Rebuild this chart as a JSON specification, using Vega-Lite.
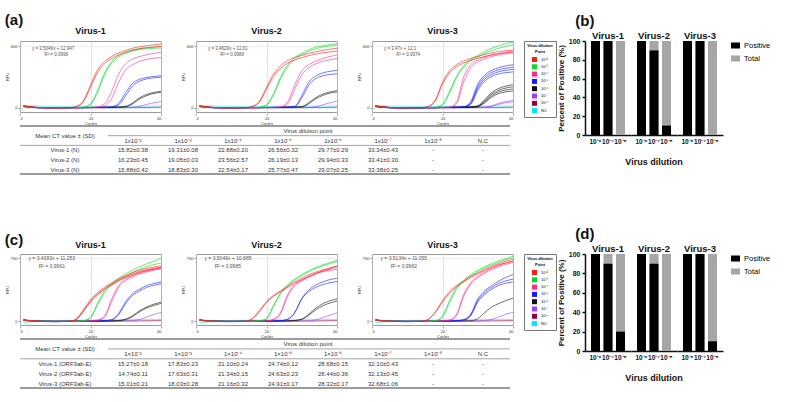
{
"$schema": "https://vega.github.io/schema/vega-lite/v6.json",
"background": "white",
"padding": {"left": 4, "top": 13, "right": 0, "bottom": 0},
"config": {
 "font": "Liberation Sans",
 "view": {"stroke": null},
 "title": {"font": "Liberation Sans", "color": "#111"},
 "header": {"labelFont": "Liberation Sans", "titleFont": "Liberation Sans"},
 "axis": {"labelFont": "Liberation Sans", "titleFont": "Liberation Sans"},
 "legend": {"labelFont": "Liberation Sans", "titleFont": "Liberation Sans"}
},
"datasets": {
 "curvesA": [
  {"virus":"Virus-1","eq":"y = 3.5046x + 12.947","r2":"R² = 0.9998"},
  {"virus":"Virus-2","eq":"y = 3.4629x + 12.61","r2":"R² = 0.9989"},
  {"virus":"Virus-3","eq":"y = 3.47x + 12.1","r2":"R² = 0.9974"},
  {"virus":"Virus-1","dil":"NC","rep":1,"cyc":[1,5,10,14,16,18,20,22,24,26,28,30,32,34,36,38,40],"rfu":[22,18,16,15,15,15,15,15,15,16,16,17,17,18,18,18,18]},
  {"virus":"Virus-1","dil":"10⁻⁸","rep":1,"cyc":[1,5,10,14,16,18,20,22,24,26,28,30,32,34,36,38,40],"rfu":[10,0,-3,-2,-2,-1,0,0,1,1,2,2,3,3,4,5,6]},
  {"virus":"Virus-1","dil":"10⁻⁷","rep":1,"cyc":[1,5,10,14,16,18,20,22,24,26,28,30,32,34,36,38,40],"rfu":[12,2,0,1,2,2,3,3,3,4,4,5,6,15,35,50,60]},
  {"virus":"Virus-1","dil":"10⁻⁶","rep":1,"cyc":[1,5,10,14,16,18,20,22,24,26,28,30,32,34,36,38,40],"rfu":[15,3,1,2,3,3,4,4,5,6,8,15,50,100,132,150,162]},
  {"virus":"Virus-1","dil":"10⁻⁶","rep":2,"cyc":[1,5,10,14,16,18,20,22,24,26,28,30,32,34,36,38,40],"rfu":[15,3,1,2,3,3,4,4,5,6,7,12,40,88,120,140,152]},
  {"virus":"Virus-1","dil":"10⁻⁵","rep":1,"cyc":[1,5,10,14,16,18,20,22,24,26,28,30,32,34,36,38,40],"rfu":[18,3,1,2,3,3,4,5,6,10,45,150,240,278,296,306,312]},
  {"virus":"Virus-1","dil":"10⁻⁵","rep":2,"cyc":[1,5,10,14,16,18,20,22,24,26,28,30,32,34,36,38,40],"rfu":[18,3,1,2,3,3,4,5,6,8,30,120,215,260,282,293,298]},
  {"virus":"Virus-1","dil":"10⁻⁴","rep":1,"cyc":[1,5,10,14,16,18,20,22,24,26,28,30,32,34,36,38,40],"rfu":[20,4,0,1,2,3,5,10,40,160,330,430,475,500,518,530,540]},
  {"virus":"Virus-1","dil":"10⁻⁴","rep":2,"cyc":[1,5,10,14,16,18,20,22,24,26,28,30,32,34,36,38,40],"rfu":[20,4,0,1,2,3,4,6,20,90,250,370,420,452,472,483,490]},
  {"virus":"Virus-1","dil":"10⁻³","rep":1,"cyc":[1,5,10,14,16,18,20,22,24,26,28,30,32,34,36,38,40],"rfu":[15,3,1,2,3,8,40,170,340,450,510,545,565,578,585,590,595]},
  {"virus":"Virus-1","dil":"10⁻³","rep":2,"cyc":[1,5,10,14,16,18,20,22,24,26,28,30,32,34,36,38,40],"rfu":[15,3,1,2,3,6,32,150,320,435,495,530,552,566,574,579,582]},
  {"virus":"Virus-1","dil":"10⁻²","rep":1,"cyc":[1,5,10,14,16,18,20,22,24,26,28,30,32,34,36,38,40],"rfu":[20,3,0,2,15,70,220,370,450,500,535,560,580,595,605,613,620]},
  {"virus":"Virus-1","dil":"10⁻²","rep":2,"cyc":[1,5,10,14,16,18,20,22,24,26,28,30,32,34,36,38,40],"rfu":[18,2,-2,1,12,60,200,345,430,480,515,540,560,575,585,592,598]},
  {"virus":"Virus-2","dil":"NC","rep":1,"cyc":[1,5,10,14,16,18,20,22,24,26,28,30,32,34,36,38,40],"rfu":[22,18,16,15,15,15,15,15,15,16,16,17,17,18,18,18,18]},
  {"virus":"Virus-2","dil":"10⁻⁸","rep":1,"cyc":[1,5,10,14,16,18,20,22,24,26,28,30,32,34,36,38,40],"rfu":[10,0,-3,-2,-2,-1,0,0,1,1,2,2,3,3,4,5,6]},
  {"virus":"Virus-2","dil":"10⁻⁷","rep":1,"cyc":[1,5,10,14,16,18,20,22,24,26,28,30,32,34,36,38,40],"rfu":[12,2,0,1,2,2,3,3,3,4,4,5,6,12,30,50,65]},
  {"virus":"Virus-2","dil":"10⁻⁶","rep":1,"cyc":[1,5,10,14,16,18,20,22,24,26,28,30,32,34,36,38,40],"rfu":[15,3,1,2,3,3,4,4,5,6,8,12,50,100,135,155,168]},
  {"virus":"Virus-2","dil":"10⁻⁶","rep":2,"cyc":[1,5,10,14,16,18,20,22,24,26,28,30,32,34,36,38,40],"rfu":[15,3,1,2,3,3,4,4,5,6,7,10,40,88,122,143,155]},
  {"virus":"Virus-2","dil":"10⁻⁵","rep":1,"cyc":[1,5,10,14,16,18,20,22,24,26,28,30,32,34,36,38,40],"rfu":[18,3,1,2,3,3,4,5,6,8,15,120,250,310,340,355,365]},
  {"virus":"Virus-2","dil":"10⁻⁵","rep":2,"cyc":[1,5,10,14,16,18,20,22,24,26,28,30,32,34,36,38,40],"rfu":[18,3,1,2,3,3,4,5,6,8,12,95,220,285,312,325,332]},
  {"virus":"Virus-2","dil":"10⁻⁴","rep":1,"cyc":[1,5,10,14,16,18,20,22,24,26,28,30,32,34,36,38,40],"rfu":[20,4,0,1,2,3,4,5,10,60,220,360,420,455,480,500,515]},
  {"virus":"Virus-2","dil":"10⁻⁴","rep":2,"cyc":[1,5,10,14,16,18,20,22,24,26,28,30,32,34,36,38,40],"rfu":[20,4,0,1,2,3,4,5,8,40,180,320,390,428,452,468,480]},
  {"virus":"Virus-2","dil":"10⁻³","rep":1,"cyc":[1,5,10,14,16,18,20,22,24,26,28,30,32,34,36,38,40],"rfu":[15,3,1,2,3,6,30,140,300,420,490,530,565,590,605,615,625]},
  {"virus":"Virus-2","dil":"10⁻³","rep":2,"cyc":[1,5,10,14,16,18,20,22,24,26,28,30,32,34,36,38,40],"rfu":[15,3,1,2,3,5,25,125,280,400,470,515,550,575,592,602,610]},
  {"virus":"Virus-2","dil":"10⁻²","rep":1,"cyc":[1,5,10,14,16,18,20,22,24,26,28,30,32,34,36,38,40],"rfu":[20,3,0,2,15,65,200,330,410,460,490,510,530,545,560,570,580]},
  {"virus":"Virus-2","dil":"10⁻²","rep":2,"cyc":[1,5,10,14,16,18,20,22,24,26,28,30,32,34,36,38,40],"rfu":[18,2,-2,1,12,55,180,305,385,435,465,488,508,523,535,544,550]},
  {"virus":"Virus-3","dil":"NC","rep":1,"cyc":[1,5,10,14,16,18,20,22,24,26,28,30,32,34,36,38,40],"rfu":[22,18,16,15,15,15,15,15,15,16,16,17,17,18,18,18,18]},
  {"virus":"Virus-3","dil":"10⁻⁸","rep":1,"cyc":[1,5,10,14,16,18,20,22,24,26,28,30,32,34,36,38,40],"rfu":[10,0,-3,-2,-2,-1,0,0,1,1,2,2,3,3,4,5,6]},
  {"virus":"Virus-3","dil":"10⁻⁷","rep":1,"cyc":[1,5,10,14,16,18,20,22,24,26,28,30,32,34,36,38,40],"rfu":[12,2,0,1,2,2,3,3,3,4,4,5,8,20,45,62,72]},
  {"virus":"Virus-3","dil":"10⁻⁷","rep":2,"cyc":[1,5,10,14,16,18,20,22,24,26,28,30,32,34,36,38,40],"rfu":[12,2,0,1,2,2,3,3,3,4,4,5,6,15,35,50,60]},
  {"virus":"Virus-3","dil":"10⁻⁶","rep":1,"cyc":[1,5,10,14,16,18,20,22,24,26,28,30,32,34,36,38,40],"rfu":[15,3,1,2,3,3,4,4,5,6,8,20,80,150,190,212,225]},
  {"virus":"Virus-3","dil":"10⁻⁶","rep":2,"cyc":[1,5,10,14,16,18,20,22,24,26,28,30,32,34,36,38,40],"rfu":[15,3,1,2,3,3,4,4,5,6,8,17,70,135,172,193,205]},
  {"virus":"Virus-3","dil":"10⁻⁶","rep":3,"cyc":[1,5,10,14,16,18,20,22,24,26,28,30,32,34,36,38,40],"rfu":[15,3,1,2,3,3,4,4,5,6,7,14,60,120,156,174,185]},
  {"virus":"Virus-3","dil":"10⁻⁶","rep":4,"cyc":[1,5,10,14,16,18,20,22,24,26,28,30,32,34,36,38,40],"rfu":[15,3,1,2,3,3,4,4,5,6,7,12,50,105,140,156,165]},
  {"virus":"Virus-3","dil":"10⁻⁵","rep":1,"cyc":[1,5,10,14,16,18,20,22,24,26,28,30,32,34,36,38,40],"rfu":[18,3,1,2,3,3,4,5,6,10,60,230,320,365,392,408,420]},
  {"virus":"Virus-3","dil":"10⁻⁵","rep":2,"cyc":[1,5,10,14,16,18,20,22,24,26,28,30,32,34,36,38,40],"rfu":[18,3,1,2,3,3,4,5,6,9,50,210,300,345,372,386,395]},
  {"virus":"Virus-3","dil":"10⁻⁵","rep":3,"cyc":[1,5,10,14,16,18,20,22,24,26,28,30,32,34,36,38,40],"rfu":[18,3,1,2,3,3,4,5,6,8,40,190,280,325,352,366,375]},
  {"virus":"Virus-3","dil":"10⁻⁵","rep":4,"cyc":[1,5,10,14,16,18,20,22,24,26,28,30,32,34,36,38,40],"rfu":[18,3,1,2,3,3,4,5,6,8,35,170,260,305,330,343,350]},
  {"virus":"Virus-3","dil":"10⁻⁴","rep":1,"cyc":[1,5,10,14,16,18,20,22,24,26,28,30,32,34,36,38,40],"rfu":[20,4,0,1,2,3,4,6,60,300,420,465,495,515,530,542,552]},
  {"virus":"Virus-3","dil":"10⁻⁴","rep":2,"cyc":[1,5,10,14,16,18,20,22,24,26,28,30,32,34,36,38,40],"rfu":[20,4,0,1,2,3,4,5,40,250,390,445,478,500,516,527,535]},
  {"virus":"Virus-3","dil":"10⁻³","rep":1,"cyc":[1,5,10,14,16,18,20,22,24,26,28,30,32,34,36,38,40],"rfu":[15,3,1,2,3,6,35,160,310,410,470,510,550,580,605,625,640]},
  {"virus":"Virus-3","dil":"10⁻³","rep":2,"cyc":[1,5,10,14,16,18,20,22,24,26,28,30,32,34,36,38,40],"rfu":[15,3,1,2,3,5,30,145,295,395,455,495,530,558,580,598,612]},
  {"virus":"Virus-3","dil":"10⁻²","rep":1,"cyc":[1,5,10,14,16,18,20,22,24,26,28,30,32,34,36,38,40],"rfu":[20,3,0,2,15,80,250,360,420,455,480,500,520,535,548,556,562]},
  {"virus":"Virus-3","dil":"10⁻²","rep":2,"cyc":[1,5,10,14,16,18,20,22,24,26,28,30,32,34,36,38,40],"rfu":[18,2,-2,1,12,70,230,340,400,435,462,482,500,515,527,535,542]}
 ],
 "curvesC": [
  {"virus":"Virus-1","eq":"y = 3.4383x + 11.253","r2":"R² = 0.9961"},
  {"virus":"Virus-2","eq":"y = 3.5049x + 10.885","r2":"R² = 0.9985"},
  {"virus":"Virus-3","eq":"y = 3.5134x + 11.055","r2":"R² = 0.9962"},
  {"virus":"Virus-1","dil":"NC","rep":1,"cyc":[1,5,10,14,16,18,20,22,24,26,28,30,32,34,36,38,40],"rfu":[-20,5,10,12,13,14,15,16,16,17,17,18,18,19,19,20,20]},
  {"virus":"Virus-1","dil":"10⁻⁸","rep":1,"cyc":[1,5,10,14,16,18,20,22,24,26,28,30,32,34,36,38,40],"rfu":[15,5,0,0,1,1,2,2,3,3,4,4,5,6,7,8,9]},
  {"virus":"Virus-1","dil":"10⁻⁷","rep":1,"cyc":[1,5,10,14,16,18,20,22,24,26,28,30,32,34,36,38,40],"rfu":[12,2,0,1,2,2,3,3,3,4,4,6,10,22,50,78,100]},
  {"virus":"Virus-1","dil":"10⁻⁶","rep":1,"cyc":[1,5,10,14,16,18,20,22,24,26,28,30,32,34,36,38,40],"rfu":[15,3,1,2,3,3,4,4,5,6,10,25,65,120,162,192,215]},
  {"virus":"Virus-1","dil":"10⁻⁶","rep":2,"cyc":[1,5,10,14,16,18,20,22,24,26,28,30,32,34,36,38,40],"rfu":[15,3,1,2,3,3,4,4,5,6,9,20,55,108,150,178,200]},
  {"virus":"Virus-1","dil":"10⁻⁵","rep":1,"cyc":[1,5,10,14,16,18,20,22,24,26,28,30,32,34,36,38,40],"rfu":[15,3,1,2,3,3,4,5,8,20,90,220,310,360,400,422,440]},
  {"virus":"Virus-1","dil":"10⁻⁵","rep":2,"cyc":[1,5,10,14,16,18,20,22,24,26,28,30,32,34,36,38,40],"rfu":[15,3,1,2,3,3,4,5,7,15,75,200,290,340,380,402,420]},
  {"virus":"Virus-1","dil":"10⁻⁴","rep":1,"cyc":[1,5,10,14,16,18,20,22,24,26,28,30,32,34,36,38,40],"rfu":[12,2,0,1,2,3,5,15,60,250,400,470,510,540,562,582,600]},
  {"virus":"Virus-1","dil":"10⁻⁴","rep":2,"cyc":[1,5,10,14,16,18,20,22,24,26,28,30,32,34,36,38,40],"rfu":[12,2,0,1,2,3,4,12,45,220,380,455,498,528,552,570,585]},
  {"virus":"Virus-1","dil":"10⁻³","rep":1,"cyc":[1,5,10,14,16,18,20,22,24,26,28,30,32,34,36,38,40],"rfu":[10,2,0,1,2,8,45,200,340,420,480,530,570,610,640,670,700]},
  {"virus":"Virus-1","dil":"10⁻³","rep":2,"cyc":[1,5,10,14,16,18,20,22,24,26,28,30,32,34,36,38,40],"rfu":[10,2,0,1,2,6,38,185,320,405,460,505,545,580,610,632,650]},
  {"virus":"Virus-1","dil":"10⁻²","rep":1,"cyc":[1,5,10,14,16,18,20,22,24,26,28,30,32,34,36,38,40],"rfu":[15,2,-3,0,30,130,240,320,380,430,475,510,545,570,590,605,620]},
  {"virus":"Virus-1","dil":"10⁻²","rep":2,"cyc":[1,5,10,14,16,18,20,22,24,26,28,30,32,34,36,38,40],"rfu":[15,2,-3,0,25,120,225,305,365,415,460,497,530,556,576,591,605]},
  {"virus":"Virus-1","dil":"10⁻²","rep":3,"cyc":[1,5,10,14,16,18,20,22,24,26,28,30,32,34,36,38,40],"rfu":[15,2,-3,0,22,110,215,295,355,405,450,487,520,546,566,580,592]},
  {"virus":"Virus-2","dil":"NC","rep":1,"cyc":[1,5,10,14,16,18,20,22,24,26,28,30,32,34,36,38,40],"rfu":[-20,5,10,12,13,14,15,16,16,17,17,18,18,19,19,20,20]},
  {"virus":"Virus-2","dil":"10⁻⁸","rep":1,"cyc":[1,5,10,14,16,18,20,22,24,26,28,30,32,34,36,38,40],"rfu":[15,5,0,0,1,1,2,2,3,3,4,4,5,6,7,8,9]},
  {"virus":"Virus-2","dil":"10⁻⁷","rep":1,"cyc":[1,5,10,14,16,18,20,22,24,26,28,30,32,34,36,38,40],"rfu":[12,2,0,1,2,2,3,3,3,4,4,6,8,18,42,70,95]},
  {"virus":"Virus-2","dil":"10⁻⁶","rep":1,"cyc":[1,5,10,14,16,18,20,22,24,26,28,30,32,34,36,38,40],"rfu":[15,3,1,2,3,3,4,4,5,6,10,22,70,130,175,205,225]},
  {"virus":"Virus-2","dil":"10⁻⁶","rep":2,"cyc":[1,5,10,14,16,18,20,22,24,26,28,30,32,34,36,38,40],"rfu":[15,3,1,2,3,3,4,4,5,6,10,25,80,148,198,230,250]},
  {"virus":"Virus-2","dil":"10⁻⁵","rep":1,"cyc":[1,5,10,14,16,18,20,22,24,26,28,30,32,34,36,38,40],"rfu":[15,3,1,2,3,3,4,5,8,25,100,250,330,380,410,430,445]},
  {"virus":"Virus-2","dil":"10⁻⁵","rep":2,"cyc":[1,5,10,14,16,18,20,22,24,26,28,30,32,34,36,38,40],"rfu":[15,3,1,2,3,3,4,5,8,22,95,255,350,405,440,465,480]},
  {"virus":"Virus-2","dil":"10⁻⁴","rep":1,"cyc":[1,5,10,14,16,18,20,22,24,26,28,30,32,34,36,38,40],"rfu":[12,2,0,1,2,3,5,25,100,300,410,460,500,535,565,590,615]},
  {"virus":"Virus-2","dil":"10⁻⁴","rep":2,"cyc":[1,5,10,14,16,18,20,22,24,26,28,30,32,34,36,38,40],"rfu":[12,2,0,1,2,3,4,20,85,280,395,450,492,528,558,584,608]},
  {"virus":"Virus-2","dil":"10⁻³","rep":1,"cyc":[1,5,10,14,16,18,20,22,24,26,28,30,32,34,36,38,40],"rfu":[10,2,0,1,2,6,32,180,320,410,470,520,565,600,630,655,680]},
  {"virus":"Virus-2","dil":"10⁻³","rep":2,"cyc":[1,5,10,14,16,18,20,22,24,26,28,30,32,34,36,38,40],"rfu":[10,2,0,1,2,5,28,170,305,395,458,508,552,588,618,643,668]},
  {"virus":"Virus-2","dil":"10⁻²","rep":1,"cyc":[1,5,10,14,16,18,20,22,24,26,28,30,32,34,36,38,40],"rfu":[15,2,-3,0,35,120,220,290,340,390,440,480,520,550,575,595,615]},
  {"virus":"Virus-2","dil":"10⁻²","rep":2,"cyc":[1,5,10,14,16,18,20,22,24,26,28,30,32,34,36,38,40],"rfu":[15,2,-3,0,30,110,210,280,330,378,425,465,502,532,556,570,580]},
  {"virus":"Virus-3","dil":"NC","rep":1,"cyc":[1,5,10,14,16,18,20,22,24,26,28,30,32,34,36,38,40],"rfu":[-20,5,10,12,13,14,15,16,16,17,17,18,18,19,19,20,20]},
  {"virus":"Virus-3","dil":"10⁻⁸","rep":1,"cyc":[1,5,10,14,16,18,20,22,24,26,28,30,32,34,36,38,40],"rfu":[15,5,0,0,1,1,2,2,3,3,4,4,5,6,7,8,9]},
  {"virus":"Virus-3","dil":"10⁻⁷","rep":1,"cyc":[1,5,10,14,16,18,20,22,24,26,28,30,32,34,36,38,40],"rfu":[12,2,0,1,2,2,3,3,3,4,4,6,10,22,50,80,100]},
  {"virus":"Virus-3","dil":"10⁻⁶","rep":1,"cyc":[1,5,10,14,16,18,20,22,24,26,28,30,32,34,36,38,40],"rfu":[15,3,1,2,3,3,4,4,5,6,8,30,100,160,200,232,260]},
  {"virus":"Virus-3","dil":"10⁻⁵","rep":1,"cyc":[1,5,10,14,16,18,20,22,24,26,28,30,32,34,36,38,40],"rfu":[15,3,1,2,3,3,4,5,8,20,80,250,340,400,450,490,520]},
  {"virus":"Virus-3","dil":"10⁻⁵","rep":2,"cyc":[1,5,10,14,16,18,20,22,24,26,28,30,32,34,36,38,40],"rfu":[15,3,1,2,3,3,4,5,7,16,70,230,320,380,425,452,470]},
  {"virus":"Virus-3","dil":"10⁻⁵","rep":3,"cyc":[1,5,10,14,16,18,20,22,24,26,28,30,32,34,36,38,40],"rfu":[15,3,1,2,3,3,4,5,7,14,62,215,300,360,402,425,440]},
  {"virus":"Virus-3","dil":"10⁻⁴","rep":1,"cyc":[1,5,10,14,16,18,20,22,24,26,28,30,32,34,36,38,40],"rfu":[12,2,0,1,2,3,5,15,80,300,430,500,550,590,625,650,670]},
  {"virus":"Virus-3","dil":"10⁻⁴","rep":2,"cyc":[1,5,10,14,16,18,20,22,24,26,28,30,32,34,36,38,40],"rfu":[12,2,0,1,2,3,4,12,65,280,415,488,538,578,610,635,655]},
  {"virus":"Virus-3","dil":"10⁻³","rep":1,"cyc":[1,5,10,14,16,18,20,22,24,26,28,30,32,34,36,38,40],"rfu":[10,2,0,1,2,8,60,230,380,460,520,570,610,645,675,700,725]},
  {"virus":"Virus-3","dil":"10⁻³","rep":2,"cyc":[1,5,10,14,16,18,20,22,24,26,28,30,32,34,36,38,40],"rfu":[10,2,0,1,2,6,50,210,360,445,505,555,595,630,660,685,708]},
  {"virus":"Virus-3","dil":"10⁻²","rep":1,"cyc":[1,5,10,14,16,18,20,22,24,26,28,30,32,34,36,38,40],"rfu":[15,2,-3,0,25,110,230,330,400,450,500,540,580,615,645,670,690]},
  {"virus":"Virus-3","dil":"10⁻²","rep":2,"cyc":[1,5,10,14,16,18,20,22,24,26,28,30,32,34,36,38,40],"rfu":[15,2,-3,0,22,100,215,315,385,438,488,528,566,600,630,652,670]}
 ],
 "tableA": [
  {"kind":"major","r":-0.5,"c":-1.26,"c2":8.54},{"kind":"minor","r":1.5,"c":-1.26,"c2":8.54},{"kind":"major","r":4.45,"c":-1.26,"c2":8.54},
  {"kind":"minor","r":0.5,"c":0.5,"c2":8.54},
  {"kind":"lab","r":0.5,"c":0,"t":"Mean CT value ± (SD)"},
  {"kind":"cell","r":0,"c":4.5,"t":"Virus dilution point"},
  {"kind":"cell","r":1,"c":1,"t":"1x10⁻²"},{"kind":"cell","r":1,"c":2,"t":"1x10⁻³"},{"kind":"cell","r":1,"c":3,"t":"1x10⁻⁴"},{"kind":"cell","r":1,"c":4,"t":"1x10⁻⁵"},
  {"kind":"cell","r":1,"c":5,"t":"1x10⁻⁶"},{"kind":"cell","r":1,"c":6,"t":"1x10⁻⁷"},{"kind":"cell","r":1,"c":7,"t":"1x10⁻⁸"},{"kind":"cell","r":1,"c":8,"t":"N.C"},
  {"kind":"lab","r":2,"c":0,"t":"Virus-1 (N)"},{"kind":"lab","r":3,"c":0,"t":"Virus-2 (N)"},{"kind":"lab","r":4,"c":0,"t":"Virus-3 (N)"},
  {"kind":"cell","r":2,"c":1,"t":"15.82±0.38"},{"kind":"cell","r":2,"c":2,"t":"19.31±0.08"},{"kind":"cell","r":2,"c":3,"t":"22.88±0.20"},{"kind":"cell","r":2,"c":4,"t":"26.56±0.32"},{"kind":"cell","r":2,"c":5,"t":"29.77±0.29"},{"kind":"cell","r":2,"c":6,"t":"33.34±0.43"},{"kind":"cell","r":2,"c":7,"t":"-"},{"kind":"cell","r":2,"c":8,"t":"-"},
  {"kind":"cell","r":3,"c":1,"t":"16.23±0.45"},{"kind":"cell","r":3,"c":2,"t":"19.05±0.03"},{"kind":"cell","r":3,"c":3,"t":"23.56±2.57"},{"kind":"cell","r":3,"c":4,"t":"26.19±0.13"},{"kind":"cell","r":3,"c":5,"t":"29.94±0.33"},{"kind":"cell","r":3,"c":6,"t":"33.41±0.30"},{"kind":"cell","r":3,"c":7,"t":"-"},{"kind":"cell","r":3,"c":8,"t":"-"},
  {"kind":"cell","r":4,"c":1,"t":"15.88±0.42"},{"kind":"cell","r":4,"c":2,"t":"18.83±0.30"},{"kind":"cell","r":4,"c":3,"t":"22.54±0.17"},{"kind":"cell","r":4,"c":4,"t":"25.77±0.47"},{"kind":"cell","r":4,"c":5,"t":"29.07±0.25"},{"kind":"cell","r":4,"c":6,"t":"33.38±0.25"},{"kind":"cell","r":4,"c":7,"t":"-"},{"kind":"cell","r":4,"c":8,"t":"-"}
 ],
 "tableC": [
  {"kind":"major","r":-0.5,"c":-1.26,"c2":8.54},{"kind":"minor","r":1.5,"c":-1.26,"c2":8.54},{"kind":"major","r":4.45,"c":-1.26,"c2":8.54},
  {"kind":"minor","r":0.5,"c":0.5,"c2":8.54},
  {"kind":"lab","r":0.5,"c":0,"t":"Mean CT value ± (SD)"},
  {"kind":"cell","r":0,"c":4.5,"t":"Virus dilution point"},
  {"kind":"cell","r":1,"c":1,"t":"1×10⁻²"},{"kind":"cell","r":1,"c":2,"t":"1×10⁻³"},{"kind":"cell","r":1,"c":3,"t":"1×10⁻⁴"},{"kind":"cell","r":1,"c":4,"t":"1×10⁻⁵"},
  {"kind":"cell","r":1,"c":5,"t":"1×10⁻⁶"},{"kind":"cell","r":1,"c":6,"t":"1×10⁻⁷"},{"kind":"cell","r":1,"c":7,"t":"1×10⁻⁸"},{"kind":"cell","r":1,"c":8,"t":"N.C"},
  {"kind":"lab","r":2,"c":0,"t":"Virus-1 (ORF3ab-E)"},{"kind":"lab","r":3,"c":0,"t":"Virus-2 (ORF3ab-E)"},{"kind":"lab","r":4,"c":0,"t":"Virus-3 (ORF3ab-E)"},
  {"kind":"cell","r":2,"c":1,"t":"15.27±0.18"},{"kind":"cell","r":2,"c":2,"t":"17.83±0.23"},{"kind":"cell","r":2,"c":3,"t":"21.10±0.24"},{"kind":"cell","r":2,"c":4,"t":"24.74±0.12"},{"kind":"cell","r":2,"c":5,"t":"28.68±0.15"},{"kind":"cell","r":2,"c":6,"t":"32.10±0.43"},{"kind":"cell","r":2,"c":7,"t":"-"},{"kind":"cell","r":2,"c":8,"t":"-"},
  {"kind":"cell","r":3,"c":1,"t":"14.74±0.11"},{"kind":"cell","r":3,"c":2,"t":"17.63±0.31"},{"kind":"cell","r":3,"c":3,"t":"21.34±0.15"},{"kind":"cell","r":3,"c":4,"t":"24.63±0.23"},{"kind":"cell","r":3,"c":5,"t":"28.44±0.36"},{"kind":"cell","r":3,"c":6,"t":"32.13±0.45"},{"kind":"cell","r":3,"c":7,"t":"-"},{"kind":"cell","r":3,"c":8,"t":"-"},
  {"kind":"cell","r":4,"c":1,"t":"15.01±0.21"},{"kind":"cell","r":4,"c":2,"t":"18.03±0.28"},{"kind":"cell","r":4,"c":3,"t":"21.16±0.32"},{"kind":"cell","r":4,"c":4,"t":"24.91±0.17"},{"kind":"cell","r":4,"c":5,"t":"28.32±0.17"},{"kind":"cell","r":4,"c":6,"t":"32.68±1.06"},{"kind":"cell","r":4,"c":7,"t":"-"},{"kind":"cell","r":4,"c":8,"t":"-"}
 ],
 "barsB": [
  {"virus":"Virus-1","dil":"10⁻⁶","series":"Total","pct":100},{"virus":"Virus-1","dil":"10⁻⁷","series":"Total","pct":100},{"virus":"Virus-1","dil":"10⁻⁸","series":"Total","pct":100},
  {"virus":"Virus-2","dil":"10⁻⁶","series":"Total","pct":100},{"virus":"Virus-2","dil":"10⁻⁷","series":"Total","pct":100},{"virus":"Virus-2","dil":"10⁻⁸","series":"Total","pct":100},
  {"virus":"Virus-3","dil":"10⁻⁶","series":"Total","pct":100},{"virus":"Virus-3","dil":"10⁻⁷","series":"Total","pct":100},{"virus":"Virus-3","dil":"10⁻⁸","series":"Total","pct":100},
  {"virus":"Virus-1","dil":"10⁻⁶","series":"Positive","pct":100},{"virus":"Virus-1","dil":"10⁻⁷","series":"Positive","pct":100},{"virus":"Virus-1","dil":"10⁻⁸","series":"Positive","pct":0},
  {"virus":"Virus-2","dil":"10⁻⁶","series":"Positive","pct":100},{"virus":"Virus-2","dil":"10⁻⁷","series":"Positive","pct":90},{"virus":"Virus-2","dil":"10⁻⁸","series":"Positive","pct":10},
  {"virus":"Virus-3","dil":"10⁻⁶","series":"Positive","pct":100},{"virus":"Virus-3","dil":"10⁻⁷","series":"Positive","pct":100},{"virus":"Virus-3","dil":"10⁻⁸","series":"Positive","pct":0}
 ],
 "barsD": [
  {"virus":"Virus-1","dil":"10⁻⁶","series":"Total","pct":100},{"virus":"Virus-1","dil":"10⁻⁷","series":"Total","pct":100},{"virus":"Virus-1","dil":"10⁻⁸","series":"Total","pct":100},
  {"virus":"Virus-2","dil":"10⁻⁶","series":"Total","pct":100},{"virus":"Virus-2","dil":"10⁻⁷","series":"Total","pct":100},{"virus":"Virus-2","dil":"10⁻⁸","series":"Total","pct":100},
  {"virus":"Virus-3","dil":"10⁻⁶","series":"Total","pct":100},{"virus":"Virus-3","dil":"10⁻⁷","series":"Total","pct":100},{"virus":"Virus-3","dil":"10⁻⁸","series":"Total","pct":100},
  {"virus":"Virus-1","dil":"10⁻⁶","series":"Positive","pct":100},{"virus":"Virus-1","dil":"10⁻⁷","series":"Positive","pct":90},{"virus":"Virus-1","dil":"10⁻⁸","series":"Positive","pct":20},
  {"virus":"Virus-2","dil":"10⁻⁶","series":"Positive","pct":100},{"virus":"Virus-2","dil":"10⁻⁷","series":"Positive","pct":90},{"virus":"Virus-2","dil":"10⁻⁸","series":"Positive","pct":0},
  {"virus":"Virus-3","dil":"10⁻⁶","series":"Positive","pct":100},{"virus":"Virus-3","dil":"10⁻⁷","series":"Positive","pct":100},{"virus":"Virus-3","dil":"10⁻⁸","series":"Positive","pct":10}
 ]
},
"spacing": 51,
"resolve": {"scale": {"color": "independent"}, "legend": {"color": "independent"}},
"vconcat": [
 {
  "spacing": 0,
  "resolve": {"scale": {"color": "independent"}, "legend": {"color": "independent"}},
  "hconcat": [
   {
    "title": {"text": "(a)", "anchor": "start", "fontSize": 15, "fontWeight": "bold", "offset": -1},
    "spacing": 0,
    "vconcat": [
     {
      "data": {"name": "curvesA"},
      "facet": {"column": {"field": "virus", "type": "nominal", "title": null, "header": {"labelFontSize": 9, "labelFontWeight": "bold", "labelPadding": 3, "labelColor": "#111"}}},
      "spacing": 16,
      "resolve": {"axis": {"y": "independent"}},
      "spec": {
       "width": 141, "height": 71,
       "view": {"stroke": "#9a9a9a"},
       "layer": [
        {
         "transform": [{"filter": "false"}],
         "mark": {"type": "square"},
         "encoding": {
          "color": {"field": "dil", "type": "nominal", "scale": {"domain": ["10⁻²","10⁻³","10⁻⁴","10⁻⁵","10⁻⁶","10⁻⁷","10⁻⁸","NC"], "range": ["#ff1a1a","#00dd22","#ff2b8c","#1a1aff","#111111","#a040ff","#990040","#00e5ff"]}, "legend": {"title": ["Virus dilution", "Point"], "titleFontSize": 4, "titleFontWeight": "bold", "titleAlign": "center", "titleAnchor": "middle", "titlePadding": 3, "labelFontSize": 4, "labelOffset": 4, "symbolType": "square", "symbolSize": 25, "symbolStrokeWidth": 0, "symbolOpacity": 1, "rowPadding": 2.3, "strokeColor": "#777", "padding": 3, "offset": 8}}
         }
        },
        {
         "transform": [{"filter": "isValid(datum.rfu)"}, {"flatten": ["cyc", "rfu"]}],
         "mark": {"type": "line", "interpolate": "monotone"},
         "encoding": {
          "x": {"field": "cyc", "type": "quantitative", "scale": {"domain": [0, 40], "nice": false}, "axis": {"values": [0,10,20,30,40], "labelOverlap": false, "title": "Cycles", "titleFontSize": 4, "titleFontWeight": "normal", "titlePadding": 1, "labelFontSize": 4, "labelPadding": 1, "tickSize": 2, "domain": false, "grid": true, "gridDash": [1, 1], "gridColor": "#c8c8c8", "labelColor": "#333", "titleColor": "#333", "tickColor": "#999"}},
          "y": {"field": "rfu", "type": "quantitative", "scale": {"domain": [-40, 650], "nice": false, "zero": false}, "axis": {"values": [0,100,200,300,400,500,600], "labelOverlap": false, "title": "RFU", "titleFontSize": 4, "titleFontWeight": "normal", "titlePadding": 1, "labelFontSize": 4, "labelPadding": 1, "tickSize": 2, "domain": false, "grid": true, "gridDash": [1, 1], "gridColor": "#dddddd", "labelColor": "#333", "titleColor": "#333", "tickColor": "#999"}},
          "color": {"field": "dil", "type": "nominal", "scale": {"domain": ["10⁻²","10⁻³","10⁻⁴","10⁻⁵","10⁻⁶","10⁻⁷","10⁻⁸","NC"], "range": ["#ff1a1a","#00dd22","#ff2b8c","#1a1aff","#111111","#a040ff","#990040","#00e5ff"]}},
          "detail": {"field": "rep", "type": "nominal"},
          "strokeWidth": {"value": 1},
          "strokeOpacity": {"value": 0.6}
         }
        },
        {
         "transform": [{"filter": "isValid(datum.eq)"}],
         "mark": {"type": "text", "align": "left", "baseline": "middle", "fontSize": 4.5, "color": "#555"},
         "encoding": {"x": {"datum": 3.4}, "y": {"datum": 569}, "text": {"field": "eq", "type": "nominal"}}
        },
        {
         "transform": [{"filter": "isValid(datum.eq)"}],
         "mark": {"type": "text", "align": "left", "baseline": "middle", "fontSize": 4.5, "color": "#555"},
         "encoding": {"x": {"datum": 6.9}, "y": {"datum": 515}, "text": {"field": "r2", "type": "nominal"}}
        }
       ]
      }
     },
     {
      "data": {"name": "tableA"},
      "width": 490, "height": 48,
      "encoding": {
       "y": {"field": "r", "type": "quantitative", "scale": {"domain": [-0.5, 4.45], "reverse": true, "nice": false, "zero": false}, "axis": null},
       "x": {"field": "c", "type": "quantitative", "scale": {"domain": [-1.26, 8.54], "nice": false, "zero": false}, "axis": null}
      },
      "layer": [
       {"transform": [{"filter": "datum.kind === 'major'"}], "mark": {"type": "rule", "color": "#7a7a7a", "strokeWidth": 1.3}, "encoding": {"x2": {"field": "c2"}}},
       {"transform": [{"filter": "datum.kind === 'minor'"}], "mark": {"type": "rule", "color": "#9a9a9a", "strokeWidth": 0.9}, "encoding": {"x2": {"field": "c2"}}},
       {"transform": [{"filter": "datum.kind === 'cell'"}], "mark": {"type": "text", "fontSize": 6, "color": "#333", "baseline": "middle"}, "encoding": {"text": {"field": "t", "type": "nominal"}}},
       {"transform": [{"filter": "datum.kind === 'lab'"}], "mark": {"type": "text", "fontSize": 6, "color": "#333", "baseline": "middle", "dx": -18}, "encoding": {"text": {"field": "t", "type": "nominal"}}}
      ]
     }
    ]
   },
   {
    "data": {"name": "barsB"},
    "title": {"text": "(b)", "anchor": "start", "fontSize": 15, "fontWeight": "bold", "dx": 18, "offset": 2},
    "facet": {"column": {"field": "virus", "type": "nominal", "title": "Virus dilution", "header": {"titleOrient": "bottom", "labelOrient": "top", "labelFontSize": 9.5, "labelFontWeight": "bold", "labelPadding": 1, "titleFontSize": 9, "titleFontWeight": "bold", "titlePadding": 3, "labelColor": "#111", "titleColor": "#111"}}},
    "spacing": 0,
    "spec": {
     "width": 46, "height": 94,
     "mark": {"type": "bar"},
     "encoding": {
      "x": {"field": "dil", "type": "nominal", "scale": {"domain": ["10⁻⁶","10⁻⁷","10⁻⁸"], "paddingInner": 0.28, "paddingOuter": 0.48}, "axis": {"title": null, "labelAngle": 0, "labelFontSize": 6.5, "labelFontWeight": "bold", "labelColor": "#111", "ticks": false, "domainColor": "#111", "domainWidth": 1.5, "labelPadding": 3}},
      "y": {"field": "pct", "type": "quantitative", "stack": null, "scale": {"domain": [0, 100], "nice": false}, "axis": {"values": [0,20,40,60,80,100], "title": "Percent of Positive (%)", "titleFontSize": 8, "titleFontWeight": "bold", "titleColor": "#111", "labelFontSize": 7, "labelFontWeight": "bold", "labelColor": "#111", "domainColor": "#111", "domainWidth": 1.5, "tickColor": "#111", "tickWidth": 1.5, "tickSize": 3, "grid": false, "titlePadding": 3, "labelPadding": 2}},
      "color": {"field": "series", "type": "nominal", "scale": {"domain": ["Positive", "Total"], "range": ["#000000", "#a6a6a6"]}, "legend": {"title": null, "orient": "right", "offset": 8, "labelFontSize": 7.5, "symbolType": "M-1,-0.67H1V0.67H-1Z", "symbolSize": 81, "symbolStrokeWidth": 0, "rowPadding": 5, "labelOffset": 4}}
     }
    }
   }
  ]
 },
 {
  "spacing": 0,
  "resolve": {"scale": {"color": "independent"}, "legend": {"color": "independent"}},
  "hconcat": [
   {
    "title": {"text": "(c)", "anchor": "start", "fontSize": 15, "fontWeight": "bold", "offset": -7},
    "spacing": 0,
    "vconcat": [
     {
      "data": {"name": "curvesC"},
      "facet": {"column": {"field": "virus", "type": "nominal", "title": null, "header": {"labelFontSize": 9, "labelFontWeight": "bold", "labelPadding": 3, "labelColor": "#111"}}},
      "spacing": 16,
      "resolve": {"axis": {"y": "independent"}},
      "spec": {
       "width": 141, "height": 71,
       "view": {"stroke": "#9a9a9a"},
       "layer": [
        {
         "transform": [{"filter": "false"}],
         "mark": {"type": "square"},
         "encoding": {
          "color": {"field": "dil", "type": "nominal", "scale": {"domain": ["10⁻²","10⁻³","10⁻⁴","10⁻⁵","10⁻⁶","10⁻⁷","10⁻⁸","NC"], "range": ["#ff1a1a","#00dd22","#ff2b8c","#1a1aff","#111111","#a040ff","#990040","#00e5ff"]}, "legend": {"title": ["Virus dilution", "Point"], "titleFontSize": 4, "titleFontWeight": "bold", "titleAlign": "center", "titleAnchor": "middle", "titlePadding": 3, "labelFontSize": 4, "labelOffset": 4, "symbolType": "square", "symbolSize": 25, "symbolStrokeWidth": 0, "symbolOpacity": 1, "rowPadding": 2.3, "strokeColor": "#777", "padding": 3, "offset": 8}}
         }
        },
        {
         "transform": [{"filter": "isValid(datum.rfu)"}, {"flatten": ["cyc", "rfu"]}],
         "mark": {"type": "line", "interpolate": "monotone"},
         "encoding": {
          "x": {"field": "cyc", "type": "quantitative", "scale": {"domain": [0, 40], "nice": false}, "axis": {"values": [0,10,20,30,40], "labelOverlap": false, "title": "Cycles", "titleFontSize": 4, "titleFontWeight": "normal", "titlePadding": 1, "labelFontSize": 4, "labelPadding": 1, "tickSize": 2, "domain": false, "grid": true, "gridDash": [1, 1], "gridColor": "#c8c8c8", "labelColor": "#333", "titleColor": "#333", "tickColor": "#999"}},
          "y": {"field": "rfu", "type": "quantitative", "scale": {"domain": [-40, 750], "nice": false, "zero": false}, "axis": {"values": [0,100,200,300,400,500,600,700], "labelOverlap": false, "title": "RFU", "titleFontSize": 4, "titleFontWeight": "normal", "titlePadding": 1, "labelFontSize": 4, "labelPadding": 1, "tickSize": 2, "domain": false, "grid": true, "gridDash": [1, 1], "gridColor": "#dddddd", "labelColor": "#333", "titleColor": "#333", "tickColor": "#999"}},
          "color": {"field": "dil", "type": "nominal", "scale": {"domain": ["10⁻²","10⁻³","10⁻⁴","10⁻⁵","10⁻⁶","10⁻⁷","10⁻⁸","NC"], "range": ["#ff1a1a","#00dd22","#ff2b8c","#1a1aff","#111111","#a040ff","#990040","#00e5ff"]}},
          "detail": {"field": "rep", "type": "nominal"},
          "strokeWidth": {"value": 1},
          "strokeOpacity": {"value": 0.6}
         }
        },
        {
         "transform": [{"filter": "isValid(datum.eq)"}],
         "mark": {"type": "text", "align": "left", "baseline": "middle", "fontSize": 5, "color": "#555"},
         "encoding": {"x": {"datum": 2.4}, "y": {"datum": 700}, "text": {"field": "eq", "type": "nominal"}}
        },
        {
         "transform": [{"filter": "isValid(datum.eq)"}],
         "mark": {"type": "text", "align": "left", "baseline": "middle", "fontSize": 5, "color": "#555"},
         "encoding": {"x": {"datum": 5.3}, "y": {"datum": 620}, "text": {"field": "r2", "type": "nominal"}}
        }
       ]
      }
     },
     {
      "data": {"name": "tableC"},
      "width": 490, "height": 49,
      "encoding": {
       "y": {"field": "r", "type": "quantitative", "scale": {"domain": [-0.5, 4.45], "reverse": true, "nice": false, "zero": false}, "axis": null},
       "x": {"field": "c", "type": "quantitative", "scale": {"domain": [-1.26, 8.54], "nice": false, "zero": false}, "axis": null}
      },
      "layer": [
       {"transform": [{"filter": "datum.kind === 'major'"}], "mark": {"type": "rule", "color": "#7a7a7a", "strokeWidth": 1.3}, "encoding": {"x2": {"field": "c2"}}},
       {"transform": [{"filter": "datum.kind === 'minor'"}], "mark": {"type": "rule", "color": "#9a9a9a", "strokeWidth": 0.9}, "encoding": {"x2": {"field": "c2"}}},
       {"transform": [{"filter": "datum.kind === 'cell'"}], "mark": {"type": "text", "fontSize": 6, "color": "#333", "baseline": "middle"}, "encoding": {"text": {"field": "t", "type": "nominal"}}},
       {"transform": [{"filter": "datum.kind === 'lab'"}], "mark": {"type": "text", "fontSize": 6, "color": "#333", "baseline": "middle", "dx": -18}, "encoding": {"text": {"field": "t", "type": "nominal"}}}
      ]
     }
    ]
   },
   {
    "data": {"name": "barsD"},
    "title": {"text": "(d)", "anchor": "start", "fontSize": 15, "fontWeight": "bold", "dx": 18, "offset": 2},
    "facet": {"column": {"field": "virus", "type": "nominal", "title": "Virus dilution", "header": {"titleOrient": "bottom", "labelOrient": "top", "labelFontSize": 9.5, "labelFontWeight": "bold", "labelPadding": 1, "titleFontSize": 9, "titleFontWeight": "bold", "titlePadding": 3, "labelColor": "#111", "titleColor": "#111"}}},
    "spacing": 0,
    "spec": {
     "width": 46, "height": 97,
     "mark": {"type": "bar"},
     "encoding": {
      "x": {"field": "dil", "type": "nominal", "scale": {"domain": ["10⁻⁶","10⁻⁷","10⁻⁸"], "paddingInner": 0.28, "paddingOuter": 0.48}, "axis": {"title": null, "labelAngle": 0, "labelFontSize": 6.5, "labelFontWeight": "bold", "labelColor": "#111", "ticks": false, "domainColor": "#111", "domainWidth": 1.5, "labelPadding": 3}},
      "y": {"field": "pct", "type": "quantitative", "stack": null, "scale": {"domain": [0, 100], "nice": false}, "axis": {"values": [0,20,40,60,80,100], "title": "Percent of Positive (%)", "titleFontSize": 8, "titleFontWeight": "bold", "titleColor": "#111", "labelFontSize": 7, "labelFontWeight": "bold", "labelColor": "#111", "domainColor": "#111", "domainWidth": 1.5, "tickColor": "#111", "tickWidth": 1.5, "tickSize": 3, "grid": false, "titlePadding": 3, "labelPadding": 2}},
      "color": {"field": "series", "type": "nominal", "scale": {"domain": ["Positive", "Total"], "range": ["#000000", "#a6a6a6"]}, "legend": {"title": null, "orient": "right", "offset": 8, "labelFontSize": 7.5, "symbolType": "M-1,-0.67H1V0.67H-1Z", "symbolSize": 81, "symbolStrokeWidth": 0, "rowPadding": 5, "labelOffset": 4}}
     }
    }
   }
  ]
 }
]
}
